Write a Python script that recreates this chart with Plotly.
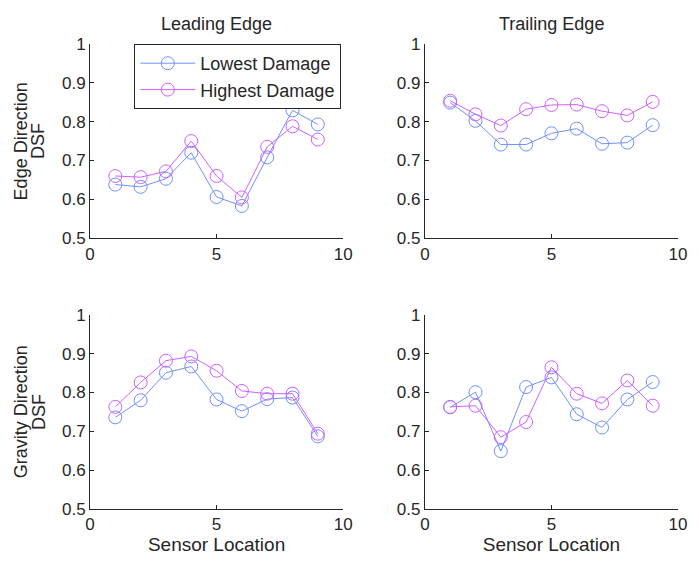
import plotly.graph_objects as go
from plotly.subplots import make_subplots

sensors = [1, 2, 3, 4, 5, 6, 7, 8, 9]

le_edge_low = [0.638, 0.632, 0.653, 0.720, 0.606, 0.583, 0.708, 0.829, 0.793]
le_edge_high = [0.660, 0.657, 0.672, 0.750, 0.660, 0.605, 0.735, 0.788, 0.754]
te_edge_low = [0.849, 0.802, 0.741, 0.741, 0.770, 0.782, 0.743, 0.746, 0.791]
te_edge_high = [0.854, 0.819, 0.790, 0.832, 0.843, 0.844, 0.827, 0.816, 0.851]
le_grav_low = [0.736, 0.780, 0.851, 0.867, 0.782, 0.752, 0.783, 0.787, 0.687]
le_grav_high = [0.763, 0.826, 0.882, 0.893, 0.856, 0.804, 0.797, 0.797, 0.694]
te_grav_low = [0.762, 0.801, 0.649, 0.814, 0.839, 0.744, 0.710, 0.782, 0.827]
te_grav_high = [0.763, 0.766, 0.685, 0.724, 0.865, 0.797, 0.772, 0.831, 0.766]

col_titles = ["Leading Edge", "Trailing Edge"]
row_titles = [["Edge Direction", "DSF"], ["Gravity Direction", "DSF"]]
x_title = "Sensor Location"
series_names = ["Lowest Damage", "Highest Damage"]

BLUE = "rgb(112,144,255)"
MAG = "rgb(206,96,255)"
FONT = "Liberation Sans, Arial, sans-serif"
TXT = "#262626"

W, H = 699, 563
ML, MR, MT, MB = 90, 12, 44, 46
PW, PH = W - ML - MR, H - MT - MB

fig = make_subplots(rows=2, cols=2, horizontal_spacing=0.139, vertical_spacing=0.165)

data = [
    (1, 1, le_edge_low, le_edge_high),
    (1, 2, te_edge_low, te_edge_high),
    (2, 1, le_grav_low, le_grav_high),
    (2, 2, te_grav_low, te_grav_high),
]
for i, (r, c, lo, hi) in enumerate(data):
    for name, vals, col in [(series_names[0], lo, BLUE), (series_names[1], hi, MAG)]:
        fig.add_trace(go.Scatter(
            x=sensors, y=vals, mode="lines+markers", name=name,
            showlegend=(i == 0),
            line=dict(color=col, width=1),
            marker=dict(symbol="circle-open", size=13, color=col, line=dict(width=1, color=col)),
        ), row=r, col=c)

axis_common = dict(showgrid=False, zeroline=False, showline=True, linecolor=TXT, linewidth=1,
                   ticks="inside", ticklen=4, tickcolor=TXT, mirror=False,
                   tickfont=dict(family=FONT, size=17, color=TXT))
for r in (1, 2):
    for c in (1, 2):
        fig.update_xaxes(range=[0, 10], tickvals=[0, 5, 10], row=r, col=c, **axis_common)
        fig.update_yaxes(range=[0.5, 1], tickvals=[0.5, 0.6, 0.7, 0.8, 0.9, 1],
                         ticktext=["0.5", "0.6", "0.7", "0.8", "0.9", "1"], row=r, col=c, **axis_common)
for c in (1, 2):
    fig.update_xaxes(title=dict(text=x_title, font=dict(family=FONT, size=19, color=TXT), standoff=3), row=2, col=c)


def px_x(px):
    return (px - ML) / PW


def px_y(py):
    return (H - MB - py) / PH


annotations = []
for c, t in enumerate(col_titles):
    xc = px_x(218.5) if c == 0 else px_x(558.5)
    annotations.append(dict(text=t, x=xc, y=px_y(24), xref="paper", yref="paper", showarrow=False,
                            xanchor="center", yanchor="middle", font=dict(family=FONT, size=18, color=TXT)))
for r, lines in enumerate(row_titles):
    yc = px_y(143) if r == 0 else px_y(418.5)
    for k, t in enumerate(lines):
        xc = px_x(20) if k == 0 else px_x(38)
        annotations.append(dict(text=t, x=xc, y=yc, xref="paper", yref="paper", showarrow=False,
                                textangle=-90, xanchor="center", yanchor="middle",
                                font=dict(family=FONT, size=18, color=TXT)))

fig.update_layout(
    width=W, height=H,
    margin=dict(l=ML, r=MR, t=MT, b=MB),
    paper_bgcolor="white", plot_bgcolor="white",
    annotations=annotations,
    legend=dict(x=px_x(135), y=1.0, xanchor="left", yanchor="top",
                bordercolor=TXT, borderwidth=1, bgcolor="white",
                font=dict(family=FONT, size=18, color=TXT), tracegroupgap=0,
                itemwidth=55),
)

fig.write_html("out.html")
